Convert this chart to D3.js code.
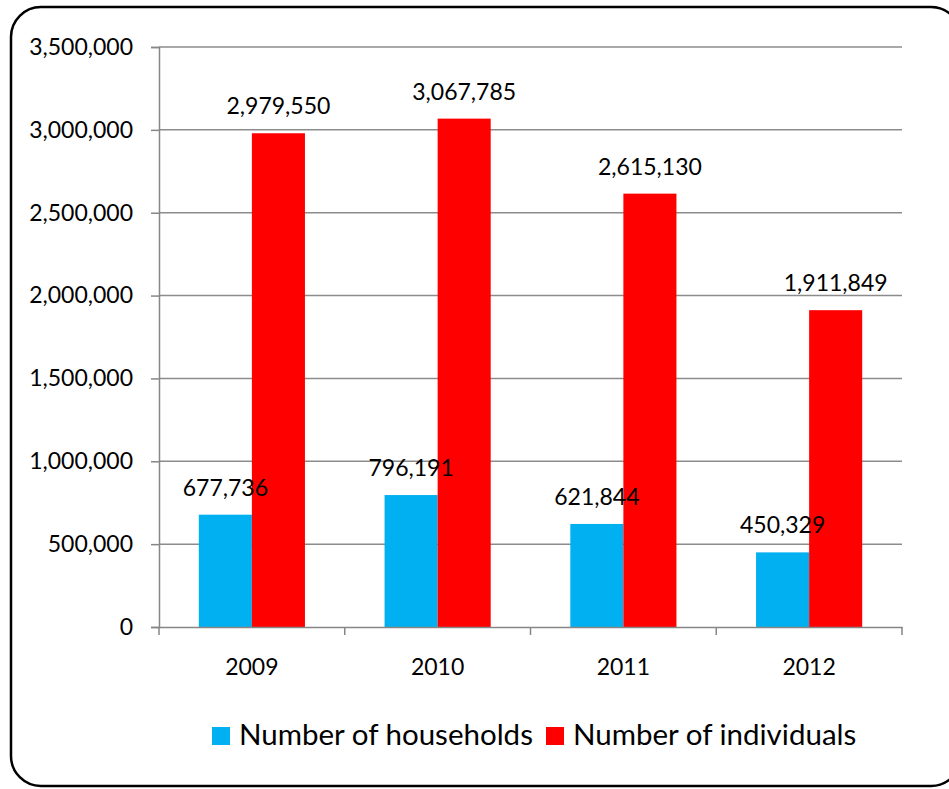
<!DOCTYPE html>
<html>
<head>
<meta charset="utf-8">
<script src="https://cdn.jsdelivr.net/npm/d3@7"></script>
<style>
  html, body { margin: 0; padding: 0; background: #fff; }
  svg { display: block; }
  text { font-family: Lato, "Open Sans", sans-serif; fill: #000; }
</style>
</head>
<body>
<svg id="chart" width="949" height="789"></svg>
<script>
// Yearly totals
const years = ["2009", "2010", "2011", "2012"];
const households = [677736, 796191, 621844, 450329];
const individuals = [2979550, 3067785, 2615130, 1911849];
const seriesNames = ["Number of households", "Number of individuals"];
const seriesColors = ["#00B0F0", "#FF0000"];
const yTicks = [0, 500000, 1000000, 1500000, 2000000, 2500000, 3000000, 3500000];

const svg = d3.select("#chart");
const fmt = d3.format(",");

// Outer rounded frame
svg.append("rect")
  .attr("x", 11).attr("y", 7)
  .attr("width", 950).attr("height", 779)
  .attr("rx", 30).attr("ry", 30)
  .attr("fill", "none")
  .attr("stroke", "#000")
  .attr("stroke-width", 2.5);

const plot = { left: 159, right: 902, top: 47, bottom: 627 };

const x = d3.scaleBand().domain(years).range([plot.left, plot.right]).paddingInner(0).paddingOuter(0);
const y = d3.scaleLinear().domain([0, 3500000]).range([plot.bottom, plot.top]);

// Two bars per year with a 150% gap between groups
const bandW = x.bandwidth();
const barW = bandW / 3.5;
const x1 = d3.scaleBand().domain([0, 1]).range([0, barW * 2]);

// Horizontal gridlines
svg.append("g")
  .selectAll("line")
  .data(yTicks.slice(1))
  .join("line")
  .attr("x1", plot.left).attr("x2", plot.right)
  .attr("y1", d => y(d)).attr("y2", d => y(d))
  .attr("stroke", "#8c8c8c")
  .attr("stroke-width", 1.5);

// Y axis
const yAxis = svg.append("g")
  .attr("transform", `translate(${plot.left},0)`)
  .call(d3.axisLeft(y).tickValues(yTicks).tickFormat(fmt).tickSize(8).tickPadding(18));
yAxis.select(".domain").attr("stroke", "#868686").attr("stroke-width", 1.5);
yAxis.selectAll(".tick line").attr("stroke", "#868686").attr("stroke-width", 1.5);
yAxis.selectAll("text").style("font-size", "23px").style("font-family", "Lato, sans-serif").attr("fill", "#000");

// Bars
const groups = svg.append("g")
  .selectAll("g")
  .data(years)
  .join("g")
  .attr("transform", d => `translate(${x(d) + (bandW - barW * 2) / 2},0)`);

const series = [households, individuals];
groups.selectAll("rect")
  .data((d, i) => series.map((s, k) => ({ k, v: s[i] })))
  .join("rect")
  .attr("x", d => x1(d.k))
  .attr("width", x1.bandwidth())
  .attr("y", d => y(d.v))
  .attr("height", d => y(0) - y(d.v))
  .attr("fill", d => seriesColors[d.k]);

// Value labels above bars
groups.selectAll("text.val")
  .data((d, i) => series.map((s, k) => ({ k, v: s[i] })))
  .join("text")
  .attr("class", "val")
  .attr("x", d => x1(d.k) + x1.bandwidth() / 2)
  .attr("y", d => y(d.v) - 19)
  .attr("text-anchor", "middle")
  .style("font-size", "23px")
  .text(d => fmt(d.v));

// X axis
const xAxis = svg.append("g")
  .attr("transform", `translate(0,${plot.bottom})`)
  .call(d3.axisBottom(x).tickSize(0).tickPadding(32));
xAxis.select(".domain").attr("stroke", "#868686").attr("stroke-width", 1.5);
xAxis.selectAll("text").style("font-size", "23px").style("font-family", "Lato, sans-serif").attr("fill", "#000");

// Category separators on the x axis
svg.append("g")
  .selectAll("line")
  .data([plot.left, ...years.map(d => x(d) + bandW)])
  .join("line")
  .attr("x1", d => d).attr("x2", d => d)
  .attr("y1", plot.bottom).attr("y2", plot.bottom + 8)
  .attr("stroke", "#868686")
  .attr("stroke-width", 1.5);

// Legend
const legend = svg.append("g").attr("transform", "translate(212,727)");
const legendX = [0, 334];
seriesNames.forEach((name, i) => {
  const g = legend.append("g").attr("transform", `translate(${legendX[i]},0)`);
  g.append("rect").attr("width", 18).attr("height", 18).attr("fill", seriesColors[i]);
  g.append("text").attr("x", 27).attr("y", 18).style("font-size", "29.5px").text(name);
});
</script>
</body>
</html>
